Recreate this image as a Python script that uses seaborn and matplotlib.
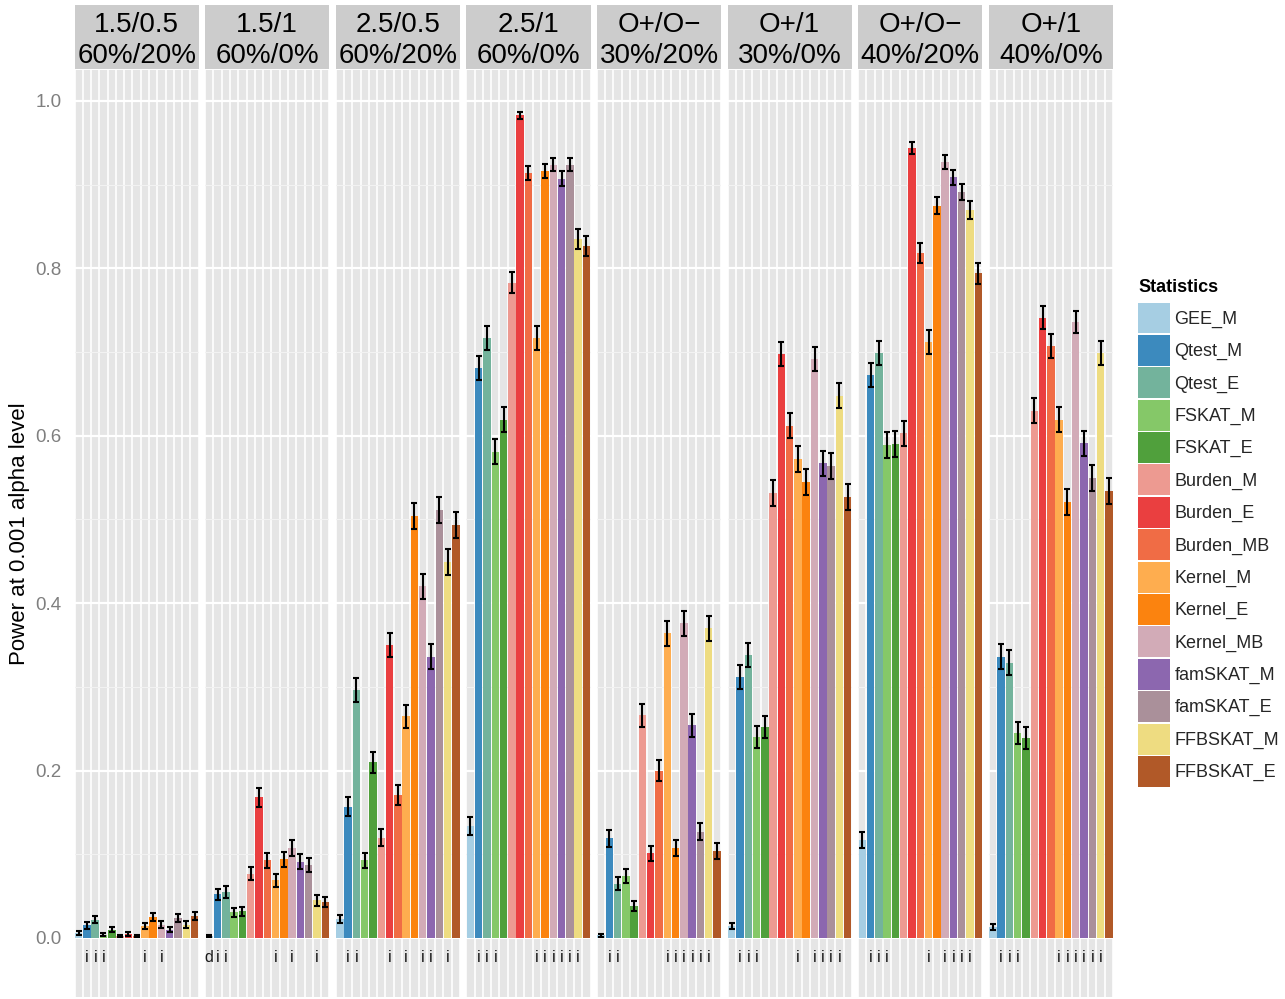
import numpy as np
import pandas as pd
import matplotlib
matplotlib.use("Agg")
import matplotlib.pyplot as plt
from matplotlib.patches import Rectangle, Patch
import seaborn as sns

# ---------------------------------------------------------------- data
statistics = ["GEE_M", "Qtest_M", "Qtest_E", "FSKAT_M", "FSKAT_E",
              "Burden_M", "Burden_E", "Burden_MB", "Kernel_M", "Kernel_E",
              "Kernel_MB", "famSKAT_M", "famSKAT_E", "FFBSKAT_M", "FFBSKAT_E"]

scenarios = ["1.5/0.5\n60%/20%", "1.5/1\n60%/0%",
             "2.5/0.5\n60%/20%", "2.5/1\n60%/0%",
             "O+/O\u2212\n30%/20%", "O+/1\n30%/0%",
             "O+/O\u2212\n40%/20%", "O+/1\n40%/0%"]

power_15_05_60_20 = [0.006, 0.015, 0.022, 0.004, 0.010, 0.002, 0.005, 0.002,
                     0.014, 0.025, 0.016, 0.010, 0.024, 0.016, 0.026]
power_15_1_60_0 = [0.002, 0.052, 0.055, 0.031, 0.032, 0.077, 0.168, 0.093,
                   0.069, 0.094, 0.108, 0.091, 0.087, 0.045, 0.043]
power_25_05_60_20 = [0.023, 0.157, 0.296, 0.093, 0.210, 0.120, 0.350, 0.171,
                     0.265, 0.504, 0.420, 0.336, 0.511, 0.449, 0.493]
power_25_1_60_0 = [0.134, 0.681, 0.717, 0.581, 0.619, 0.783, 0.983, 0.914,
                   0.717, 0.916, 0.924, 0.907, 0.924, 0.835, 0.827]
power_oo_30_20 = [0.003, 0.119, 0.065, 0.074, 0.038, 0.266, 0.101, 0.200,
                  0.364, 0.108, 0.376, 0.254, 0.127, 0.370, 0.104]
power_o1_30_0 = [0.014, 0.312, 0.338, 0.240, 0.252, 0.532, 0.698, 0.612,
                 0.572, 0.545, 0.692, 0.567, 0.564, 0.648, 0.527]
power_oo_40_20 = [0.117, 0.673, 0.699, 0.589, 0.590, 0.603, 0.944, 0.818,
                  0.712, 0.875, 0.927, 0.909, 0.891, 0.870, 0.794]
power_o1_40_0 = [0.013, 0.336, 0.329, 0.245, 0.239, 0.630, 0.741, 0.707,
                 0.619, 0.521, 0.736, 0.591, 0.550, 0.699, 0.534]

# type I error flags: i = inflated, d = deflated
flags_15_05_60_20 = ["", "i", "i", "i", "", "", "", "", "i", "", "i", "", "", "", ""]
flags_15_1_60_0 = ["d", "i", "i", "", "", "", "", "", "i", "", "i", "", "", "i", ""]
flags_25_05_60_20 = ["", "i", "i", "", "", "", "i", "", "i", "", "i", "i", "", "i", ""]
flags_25_1_60_0 = ["", "i", "i", "i", "", "", "", "", "i", "i", "i", "i", "i", "i", ""]
flags_oo_30_20 = ["", "i", "i", "", "", "", "", "", "i", "i", "i", "i", "i", "i", ""]
flags_o1_30_0 = ["", "i", "i", "i", "", "", "", "", "i", "", "i", "i", "i", "i", ""]
flags_oo_40_20 = ["", "i", "i", "i", "", "", "", "", "i", "", "i", "i", "i", "i", ""]
flags_o1_40_0 = ["", "i", "i", "i", "", "", "", "", "i", "i", "i", "i", "i", "i", ""]

n_replicates = 4000

powers = [power_15_05_60_20, power_15_1_60_0, power_25_05_60_20, power_25_1_60_0,
          power_oo_30_20, power_o1_30_0, power_oo_40_20, power_o1_40_0]
flags = [flags_15_05_60_20, flags_15_1_60_0, flags_25_05_60_20, flags_25_1_60_0,
         flags_oo_30_20, flags_o1_30_0, flags_oo_40_20, flags_o1_40_0]

colors = ["#A6CEE3", "#3C8ABE", "#73B39C", "#85C868", "#50A03C",
          "#ED9A91", "#EA3F40", "#F06C45", "#FEAD4F", "#FB830F",
          "#D2ABB7", "#8C67AF", "#AA909A", "#EEDC81", "#B15928"]

rows = []
for sc, pw, fl in zip(scenarios, powers, flags):
    for st, p, f in zip(statistics, pw, fl):
        rows.append({"scenario": sc, "statistic": st, "power": p, "flag": f})
df = pd.DataFrame(rows)
df["ci"] = 1.96 * np.sqrt(df["power"] * (1 - df["power"]) / n_replicates)

# ---------------------------------------------------------------- figure
sns.set_theme(style="white")
plt.rcParams["font.family"] = ["Liberation Sans", "DejaVu Sans"]

W, H = 1285, 999
fig, axes = plt.subplots(1, len(scenarios), figsize=(W / 100, H / 100), dpi=100,
                         sharey=True)
panel_top, panel_bottom = 70, 997
fig.subplots_adjust(left=74.5 / W, right=1113 / W,
                    bottom=1 - panel_bottom / H, top=1 - panel_top / H,
                    wspace=0.051)
panel_h = panel_bottom - panel_top
palette = dict(zip(statistics, colors))

for ax, sc in zip(axes, scenarios):
    sub = df[df["scenario"] == sc].set_index("statistic").loc[statistics].reset_index()
    ax.set_facecolor("#E5E5E5")
    sns.barplot(data=sub, x="statistic", y="power", hue="statistic",
                order=statistics, hue_order=statistics, palette=palette,
                width=0.9, saturation=1, errorbar=None, legend=False,
                linewidth=0, ax=ax, zorder=2)
    xs = np.arange(len(statistics))
    ax.errorbar(xs, sub["power"], yerr=sub["ci"], fmt="none", ecolor="black",
                elinewidth=1.5, capsize=1.9, capthick=1.5, zorder=3)
    for x, f in zip(xs, sub["flag"]):
        if f:
            ax.text(x, -0.0285, f, ha="center", va="baseline", fontsize=11.5,
                    color="#1a1a1a", zorder=4)

    ax.set_xlim(-0.5, len(statistics) - 0.5)
    ax.set_ylim(-0.0705, 1.037)
    ax.set_xticks(np.arange(-0.5, len(statistics), 1.0))
    ax.set_xticklabels([])
    ax.set_yticks([0.0, 0.2, 0.4, 0.6, 0.8, 1.0])
    ax.set_yticks([0.1, 0.3, 0.5, 0.7, 0.9], minor=True)
    ax.set_axisbelow(True)
    ax.grid(axis="x", which="major", color="white", linewidth=1.2)
    ax.grid(axis="y", which="major", color="white", linewidth=1.6)
    ax.grid(axis="y", which="minor", color="#F2F2F2", linewidth=0.8)
    ax.tick_params(axis="both", which="both", length=0)
    ax.set_xlabel("")
    ax.set_ylabel("")
    for s in ax.spines.values():
        s.set_visible(False)

    # facet strip
    strip_h = 64 / panel_h
    gap = 1 / panel_h
    ax.add_patch(Rectangle((0, 1 + gap), 1, strip_h, transform=ax.transAxes,
                           facecolor="#CCCCCC", edgecolor="none", clip_on=False))
    ax.text(0.5, 1 + gap + strip_h / 2 - 3.5 / panel_h, sc, transform=ax.transAxes,
            ha="center", va="center", fontsize=20, linespacing=1.27,
            color="black")

axes[0].set_yticklabels(["0.0", "0.2", "0.4", "0.6", "0.8", "1.0"])
axes[0].tick_params(axis="y", labelsize=13.5, labelcolor="#7F7F7F", pad=9.5)

fig.text(20 / W, 1 - (panel_top + panel_bottom) / 2 / H,
         "Power at 0.001 alpha level", rotation=90, ha="center", va="center",
         fontsize=16, color="black")

# legend: title drawn as text, keys below it
fig.text(1138 / W, 1 - 287 / H, "Statistics", ha="left", va="center",
         fontsize=13, fontweight="bold", color="black")
handles = [Patch(facecolor=c, edgecolor="none") for c in colors]
leg = fig.legend(handles, statistics, loc="upper left",
                 bbox_to_anchor=(1138 / W, 1 - 302.5 / H), frameon=False,
                 fontsize=13, handlelength=1.77, handleheight=2.26,
                 labelspacing=0.08, handletextpad=0.25, borderpad=0,
                 borderaxespad=0)

fig.savefig("out.png", dpi=100, facecolor="white")
